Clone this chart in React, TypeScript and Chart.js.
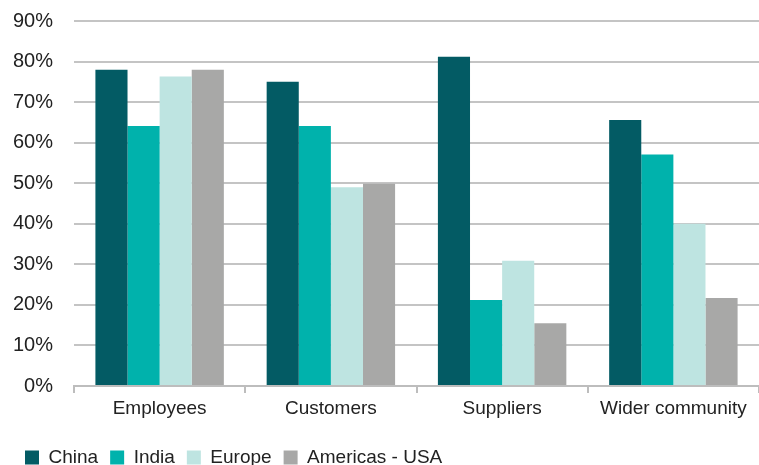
import React, { useEffect, useRef } from "react";
import { Chart, registerables } from "chart.js";

Chart.register(...registerables);

const categories = ["Employees", "Customers", "Suppliers", "Wider community"];
const seriesNames = ["China", "India", "Europe", "Americas - USA"];
const china = [78, 75, 81.2, 65.6];
const india = [64.1, 64.1, 21.2, 57.1];
const europe = [76.3, 49, 30.9, 40];
const usa = [78, 49.9, 15.5, 21.7];
const colors = ["#035B64", "#00B2AC", "#BEE4E1", "#A8A8A7"];
const yTicks = [0, 10, 20, 30, 40, 50, 60, 70, 80, 90];

export default function App() {
  const ref = useRef<HTMLCanvasElement | null>(null);
  useEffect(() => {
    if (!ref.current) return;
    const font = { family: "'Liberation Sans', Arial, sans-serif", size: 19 };
    const yFont = { family: "'Liberation Sans', Arial, sans-serif", size: 20 };
    const values = [china, india, europe, usa];
    const chart = new Chart(ref.current, {
      type: "bar",
      data: {
        labels: categories,
        datasets: seriesNames.map((n, i) => ({
          label: n,
          data: values[i],
          backgroundColor: colors[i],
          borderWidth: 0,
          barPercentage: 1,
          categoryPercentage: 0.75,
        })),
      },
      options: {
        responsive: false,
        animation: false,
        devicePixelRatio: 1,
        layout: { padding: { top: 21, left: 13, right: 0, bottom: 0 } },
        plugins: {
          tooltip: { enabled: false },
          legend: {
            position: "bottom",
            align: "start",
            labels: {
              font,
              color: "#222",
              boxWidth: 14,
              boxHeight: 14,
              padding: 12,
            },
          },
        },
        scales: {
          x: {
            grid: {
              display: true,
              offset: true,
              drawOnChartArea: false,
              drawTicks: true,
              tickLength: 7,
              color: "#bdbdbd",
              lineWidth: 2,
            },
            border: { display: true, color: "#bdbdbd", width: 2 },
            ticks: { font, color: "#222", padding: 4, maxRotation: 0 },
            afterFit: (s: any) => {
              s.height = 50;
            },
          },
          y: {
            min: 0,
            max: 90,
            afterBuildTicks: (s: any) => {
              s.ticks = yTicks.map((v) => ({ value: v }));
            },
            grid: {
              color: "#c4c4c4",
              lineWidth: 2,
              drawTicks: true,
              tickLength: 21,
              tickColor: "rgba(0,0,0,0)",
            },
            border: { display: false },
            ticks: {
              font: yFont,
              color: "#222",
              padding: 0,
              callback: (v: any) => v + "%",
            },
            afterFit: (s: any) => {
              s.width = 61;
            },
          },
        },
      },
    });
    return () => chart.destroy();
  }, []);
  return (
    <div
      style={{
        position: "absolute",
        left: 0,
        top: 0,
        width: 759,
        height: 465,
        overflow: "hidden",
        background: "#fff",
      }}
    >
      <canvas ref={ref} width={759} height={477} style={{ display: "block", width: 759, height: 477 }} />
    </div>
  );
}
